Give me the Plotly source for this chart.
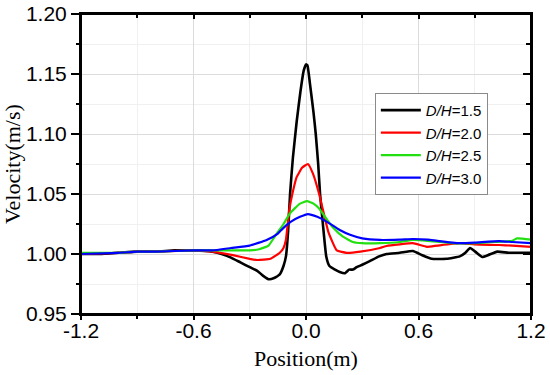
import plotly.graph_objects as go

# ---------------- data ----------------
x_15 = [-1.2, -1.1, -1.0, -0.9, -0.8, -0.7, -0.6, -0.5, -0.45, -0.4, -0.35, -0.3, -0.26, -0.23, -0.2,
        -0.17, -0.14, -0.12, -0.107, -0.095, -0.085, -0.07, -0.05, -0.03, -0.012, 0.0, 0.008, 0.021,
        0.04, 0.052, 0.065, 0.075, 0.09, 0.108, 0.125, 0.155, 0.18, 0.208, 0.23, 0.25, 0.27, 0.3,
        0.34, 0.39, 0.43, 0.5, 0.57, 0.62, 0.67, 0.75, 0.82, 0.85, 0.875, 0.91, 0.94, 0.97, 1.02,
        1.08, 1.125, 1.2]
v_15 = [1.000, 1.000, 1.001, 1.002, 1.002, 1.003, 1.003, 1.002, 1.000, 0.997, 0.993, 0.989, 0.986,
        0.982, 0.979, 0.980, 0.983, 0.990, 0.998, 1.020, 1.050, 1.080, 1.110, 1.135, 1.153, 1.158,
        1.157, 1.142, 1.118, 1.100, 1.075, 1.050, 1.025, 0.998, 0.990, 0.987, 0.985, 0.984, 0.987,
        0.987, 0.989, 0.991, 0.994, 0.998, 1.000, 1.001, 1.0025, 0.999, 0.996, 0.996, 0.998, 1.001,
        1.005, 1.001, 0.9975, 0.999, 1.002, 1.001, 1.001, 1.001]

x_20 = [-1.2, -1.0, -0.9, -0.8, -0.6, -0.5, -0.39, -0.3, -0.26, -0.19, -0.14, -0.12, -0.107, -0.089,
        -0.07, -0.05, -0.02, 0.01, 0.037, 0.07, 0.09, 0.12, 0.164, 0.217, 0.29, 0.395, 0.43, 0.5,
        0.57, 0.645, 0.7, 0.82, 0.9, 1.03, 1.1, 1.2]
v_20 = [1.000, 1.001, 1.002, 1.002, 1.003, 1.002, 0.999, 0.996, 0.995, 0.996, 1.001, 1.005, 1.012,
        1.037, 1.052, 1.064, 1.072, 1.075, 1.067, 1.050, 1.037, 1.018, 1.003, 1.001, 1.002, 1.005,
        1.0067, 1.008, 1.009, 1.006, 1.007, 1.009, 1.008, 1.0075, 1.007, 1.006]

x_25 = [-1.2, -1.0, -0.9, -0.8, -0.6, -0.5, -0.4, -0.3, -0.25, -0.2, -0.156, -0.12, -0.085, -0.06,
        -0.032, 0.005, 0.04, 0.07, 0.092, 0.12, 0.144, 0.197, 0.25, 0.3, 0.395, 0.5, 0.57, 0.65,
        0.78, 0.9, 1.0, 1.1, 1.125, 1.2]
v_25 = [1.001, 1.001, 1.002, 1.002, 1.003, 1.003, 1.003, 1.003, 1.004, 1.007, 1.017, 1.025, 1.034,
        1.038, 1.042, 1.044, 1.042, 1.038, 1.033, 1.027, 1.022, 1.0144, 1.010, 1.009, 1.009, 1.010,
        1.0117, 1.011, 1.009, 1.009, 1.010, 1.011, 1.013, 1.012]

x_30 = [-1.2, -1.0, -0.9, -0.8, -0.6, -0.5, -0.4, -0.3, -0.21, -0.15, -0.123, -0.08, -0.032, 0.01,
        0.06, 0.11, 0.18, 0.235, 0.3, 0.395, 0.5, 0.57, 0.65, 0.7, 0.82, 0.9, 1.03, 1.1, 1.2]
v_30 = [1.000, 1.001, 1.002, 1.002, 1.003, 1.003, 1.005, 1.007, 1.0117, 1.017, 1.0214, 1.027, 1.031,
        1.0333, 1.031, 1.027, 1.020, 1.016, 1.013, 1.0117, 1.012, 1.0125, 1.012, 1.011, 1.009,
        1.0095, 1.0108, 1.010, 1.009]

series_names = ["<i>D/H</i>=1.5", "<i>D/H</i>=2.0", "<i>D/H</i>=2.5", "<i>D/H</i>=3.0"]
x_ticks = [-1.2, -0.6, 0.0, 0.6, 1.2]
x_ticktext = ["-1.2", "-0.6", "0.0", "0.6", "1.2"]
x_minor = [-0.9, -0.3, 0.3, 0.9]
y_ticks = [0.95, 1.00, 1.05, 1.10, 1.15, 1.20]
y_ticktext = ["0.95", "1.00", "1.05", "1.10", "1.15", "1.20"]
y_minor = [0.975, 1.025, 1.075, 1.125, 1.175]

# ---------------- figure ----------------
colors = ["#000000", "#ff0000", "#22e010", "#0000ff"]
widths = [2.6, 2.2, 2.2, 2.2]
xs = [x_15, x_20, x_25, x_30]
vs = [v_15, v_20, v_25, v_30]

fig = go.Figure()
for name, x, v, c, w in zip(series_names, xs, vs, colors, widths):
    fig.add_trace(go.Scatter(x=x, y=v, mode="lines", name=name,
                             line=dict(color=c, width=w, shape="spline", smoothing=0.4)))

tick_font = dict(family="Liberation Sans, Arial, sans-serif", size=21, color="#000")
title_font = dict(family="Liberation Serif, Times New Roman, serif", size=22, color="#000")

fig.update_layout(
    width=550, height=375,
    margin=dict(l=81, r=19, t=14, b=61, autoexpand=False),
    paper_bgcolor="white", plot_bgcolor="white",
    showlegend=True,
    legend=dict(x=0.653, y=0.737, xanchor="left", yanchor="top",
                bgcolor="white", bordercolor="#8a8a8a", borderwidth=1,
                font=dict(family="Liberation Sans, Arial, sans-serif", size=15, color="#000"),
                tracegroupgap=0, itemwidth=40),
    xaxis=dict(range=[-1.2, 1.2], tickmode="array", tickvals=x_ticks, ticktext=x_ticktext,
               ticks="outside", ticklen=4, tickwidth=2, tickcolor="#000",
               showline=True, mirror=True, linecolor="#000", linewidth=2, zeroline=False,
               showgrid=True, gridcolor="#dcdcdc", gridwidth=1, automargin=False,
               minor=dict(tickmode="array", tickvals=x_minor, ticks="outside", ticklen=3,
                          tickwidth=2, tickcolor="#000", showgrid=True, gridcolor="#f0f0f0"),
               tickfont=tick_font, ticklabelstandoff=-7,
               title=dict(text="Position(m)", font=title_font, standoff=9)),
    yaxis=dict(range=[0.95, 1.2], tickmode="array", tickvals=y_ticks, ticktext=y_ticktext,
               ticks="outside", ticklen=8, tickwidth=2, tickcolor="#000",
               showline=True, mirror=True, linecolor="#000", linewidth=2, zeroline=False,
               showgrid=True, gridcolor="#dcdcdc", gridwidth=1, automargin=False,
               minor=dict(tickmode="array", tickvals=y_minor, ticks="outside", ticklen=3,
                          tickwidth=2, tickcolor="#000", showgrid=True, gridcolor="#f0f0f0"),
               tickfont=tick_font, ticklabeloverflow="allow",
               title=dict(text="Velocity(m/s)", font=title_font, standoff=12)),
    xaxis2=dict(overlaying="x", side="top", anchor="y", range=[-1.2, 1.2], automargin=False,
                tickmode="array", tickvals=x_ticks, showticklabels=False,
                ticks="inside", ticklen=5, tickwidth=2, tickcolor="#000",
                showline=False, showgrid=False, zeroline=False,
                minor=dict(tickmode="array", tickvals=x_minor, ticks="inside", ticklen=4,
                           tickwidth=2, tickcolor="#000", showgrid=False)),
    yaxis2=dict(overlaying="y", side="right", anchor="x", range=[0.95, 1.2], automargin=False,
                tickmode="array", tickvals=y_ticks, showticklabels=False,
                ticks="inside", ticklen=8, tickwidth=2, tickcolor="#000",
                showline=False, showgrid=False, zeroline=False,
                minor=dict(tickmode="array", tickvals=y_minor, ticks="inside", ticklen=5,
                           tickwidth=2, tickcolor="#000", showgrid=False)),
)

# plot frame (style only)
fig.add_shape(type="rect", xref="paper", yref="paper", x0=0, x1=1, y0=0, y1=1,
              line=dict(color="#000", width=2), fillcolor="rgba(0,0,0,0)", layer="above")

# invisible helper trace so the mirrored tick axes are drawn
fig.add_trace(go.Scatter(x=[None], y=[None], xaxis="x2", yaxis="y2",
                         showlegend=False, hoverinfo="skip"))

# remove the default 8px page margin so the figure fills the 550x375 window
fig.write_html("out.html", config={"displayModeBar": False},
               post_script="document.body.style.margin='0';document.body.style.overflow='hidden';")
